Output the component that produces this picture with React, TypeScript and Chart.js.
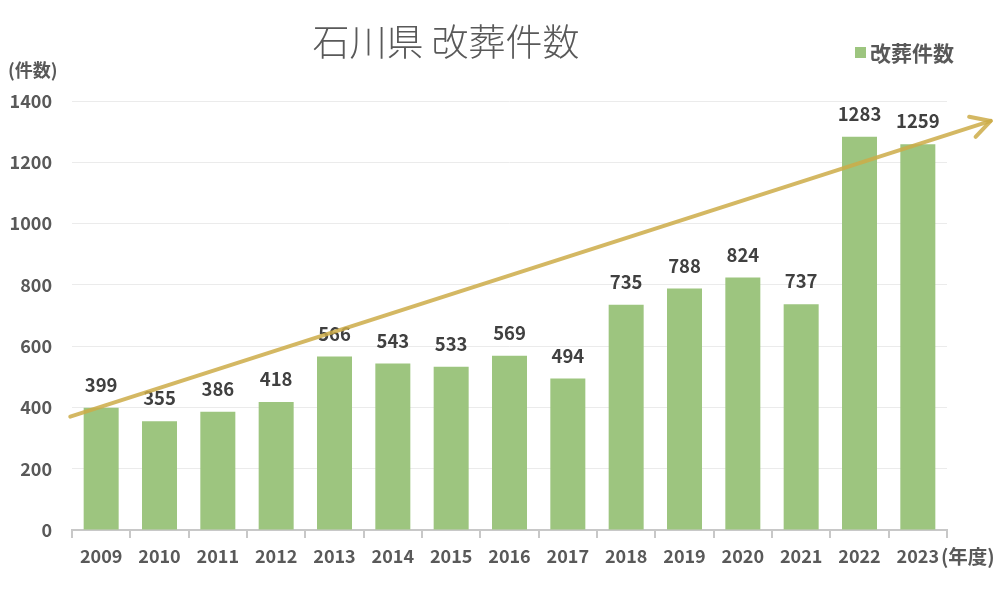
import React, { useEffect, useRef } from "react";
import { Chart, registerables } from "chart.js";

Chart.register(...registerables);

const categories = ["2009","2010","2011","2012","2013","2014","2015","2016","2017","2018","2019","2020","2021","2022","2023"];
const values = [399, 355, 386, 418, 566, 543, 533, 569, 494, 735, 788, 824, 737, 1283, 1259];
const yTicks = [0, 200, 400, 600, 800, 1000, 1200, 1400];
const seriesName = "改葬件数";
const titleText = "石川県 改葬件数";
const yUnit = "(件数)";
const xUnit = "(年度)";
// trend arrow, in (category index, value) terms
const arrowStart = [-0.53, 370];
const arrowEnd = [15.25, 1335];

const FONT = "'Noto Sans CJK JP', 'Noto Sans', sans-serif";
const BAR = "#9DC57F";
const TEXT = "#595959";

export default function App() {
  const ref = useRef<HTMLCanvasElement>(null);
  useEffect(() => {
    document.body.style.margin = "0";
    const overlay = {
      id: "overlay",
      afterDatasetsDraw(chart: any) {
        const ctx = chart.ctx;
        const xs = chart.scales.x;
        const ys = chart.scales.y;
        const meta = chart.getDatasetMeta(0);
        ctx.save();
        // data labels
        ctx.font = `bold 18.5px ${FONT}`;
        ctx.fillStyle = "#404040";
        ctx.textAlign = "center";
        ctx.textBaseline = "middle";
        meta.data.forEach((bar: any, i: number) => {
          ctx.fillText(String(values[i]), bar.x, bar.y - 23);
        });
        // arrow
        const x1 = xs.getPixelForValue(arrowStart[0]);
        const y1 = ys.getPixelForValue(arrowStart[1]);
        const x2 = xs.getPixelForValue(arrowEnd[0]);
        const y2 = ys.getPixelForValue(arrowEnd[1]);
        ctx.strokeStyle = "rgba(205,172,72,0.85)";
        ctx.lineWidth = 4;
        ctx.lineCap = "round";
        ctx.lineJoin = "round";
        ctx.beginPath();
        ctx.moveTo(x1, y1);
        ctx.lineTo(x2, y2);
        ctx.stroke();
        const ang = Math.atan2(y2 - y1, x2 - x1);
        const L = 22;
        ctx.beginPath();
        ctx.moveTo(x2 + L * Math.cos(ang + Math.PI - 0.5), y2 + L * Math.sin(ang + Math.PI - 0.5));
        ctx.lineTo(x2, y2);
        ctx.lineTo(x2 + L * Math.cos(ang + Math.PI + 0.5), y2 + L * Math.sin(ang + Math.PI + 0.5));
        ctx.stroke();
        // title
        ctx.fillStyle = TEXT;
        ctx.font = `300 37px ${FONT}`;
        ctx.textAlign = "center";
        ctx.fillText(titleText, 446, 42);
        // legend
        ctx.fillStyle = BAR;
        ctx.fillRect(855, 47, 11, 11);
        ctx.fillStyle = TEXT;
        ctx.font = `bold 21px ${FONT}`;
        ctx.textAlign = "left";
        ctx.fillText(seriesName, 870, 53);
        // units
        ctx.font = `bold 18px ${FONT}`;
        ctx.fillText(yUnit, 8, 70);
        ctx.font = `bold 19.5px ${FONT}`;
        ctx.fillText(xUnit, 941, 557);
        ctx.restore();
      },
    };
    const chart = new Chart(ref.current!, {
      type: "bar",
      data: {
        labels: categories,
        datasets: [
          {
            label: seriesName,
            data: values,
            backgroundColor: BAR,
            categoryPercentage: 1,
            barPercentage: 0.6,
          },
        ],
      },
      options: {
        animation: false,
        responsive: false,
        layout: { padding: { top: 101, right: 53, left: 0, bottom: 0 } },
        plugins: { legend: { display: false }, title: { display: false }, tooltip: { enabled: false } },
        scales: {
          x: {
            offset: true,
            grid: {
              display: true,
              drawOnChartArea: false,
              offset: true,
              color: "#C8C8C8",
              tickLength: 8,
              lineWidth: 2,
            },
            border: { display: true, color: "#C8C8C8", width: 2 },
            ticks: { color: TEXT, font: { family: FONT, size: 18, weight: "bold" }, padding: 7, maxRotation: 0, autoSkip: false },
            afterFit(scale: any) { scale.height = 68; },
          },
          y: {
            min: 0,
            max: 1400,
            afterBuildTicks(scale: any) { scale.ticks = yTicks.map((v) => ({ value: v })); },
            grid: { color: "#EBEBEB", lineWidth: 1, drawTicks: false },
            border: { display: false },
            ticks: { color: TEXT, font: { family: FONT, size: 18, weight: "bold" }, padding: 20, callback: (v: any) => String(v) },
            afterFit(scale: any) { scale.width = 72; },
          },
        },
      },
      plugins: [overlay],
    });
    return () => chart.destroy();
  }, []);
  return (
    <div style={{ position: "absolute", left: 0, top: 0, width: 1000, height: 598 }}>
      <canvas ref={ref} width={1000} height={598} style={{ width: 1000, height: 598 }} />
    </div>
  );
}
